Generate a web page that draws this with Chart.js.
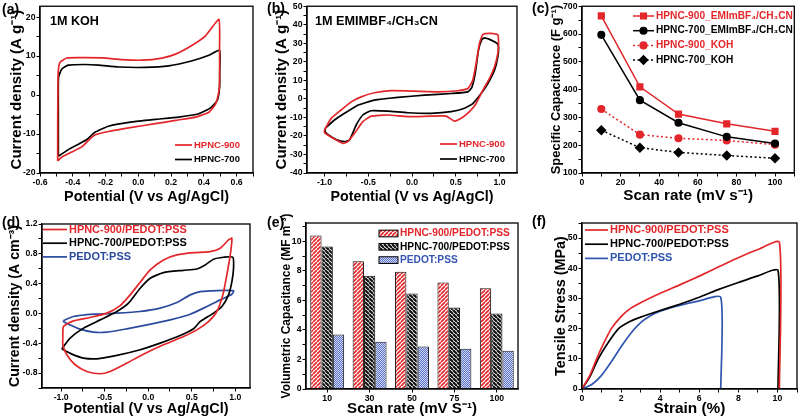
<!DOCTYPE html>
<html>
<head>
<meta charset="utf-8">
<script src="https://cdn.jsdelivr.net/npm/chart.js@4.4.1/dist/chart.umd.min.js"></script>
<style>
  html, body { margin: 0; padding: 0; background: #fff; }
  #fig { position: relative; width: 800px; height: 420px; overflow: hidden; }
  #fig canvas { position: absolute; }
</style>
</head>
<body>
<div id="fig"></div>
<script>
// ---- données ----

// (a) CV dans 1M KOH : [potentiel (V), densité de courant (A/g)]
const cvKoh900 = [[-0.492,-16.9],[-0.492,-8],[-0.491,0],[-0.489,5.8],[-0.478,8.4],[-0.437,9.5],[-0.365,9.6],[-0.222,9.55],[-0.1,9.1],[0.023,8.95],[0.145,9.5],[0.227,10.5],[0.329,12.8],[0.41,15.2],[0.492,19.4],[0.496,12],[0.496,3.7],[0.492,1.1],[0.472,-2.25],[0.431,-4.4],[0.349,-5.65],[0.227,-6.5],[0.104,-7.35],[-0.059,-8.4],[-0.182,-9.35],[-0.263,-10.2],[-0.304,-11.6],[-0.345,-13.3],[-0.406,-14.6],[-0.467,-15.9],[-0.492,-16.9]];
const cvKoh700 = [[-0.488,-15.7],[-0.488,-5],[-0.487,4.5],[-0.467,6.7],[-0.427,7.7],[-0.324,7.85],[-0.243,7.7],[-0.121,7.2],[0.043,7.1],[0.186,7.5],[0.329,8.8],[0.431,10.2],[0.496,11.5],[0.497,6],[0.496,2.0],[0.482,-1.4],[0.441,-3.3],[0.369,-4.8],[0.247,-5.65],[0.104,-6.25],[-0.039,-6.9],[-0.182,-8.0],[-0.263,-9.5],[-0.314,-11.4],[-0.365,-12.6],[-0.427,-14.0],[-0.488,-15.7]];

// (b) CV dans EMIMBF4/CH3CN
const cvIl900 = [[-1.0,-16.8],[-0.924,-10.5],[-0.81,-6.0],[-0.695,-1.6],[-0.581,1.1],[-0.429,3.3],[-0.238,4.4],[0.029,4.2],[0.295,3.8],[0.524,4.4],[0.638,5.6],[0.695,10.1],[0.733,19.1],[0.771,29.9],[0.81,34.7],[0.905,35.3],[0.981,34.6],[0.989,29.9],[0.981,24.5],[0.943,17.3],[0.886,11.0],[0.81,4.7],[0.733,-2.5],[0.657,-6.9],[0.562,-10.5],[0.486,-12.0],[0.39,-9.3],[0.219,-9.3],[-0.048,-9.6],[-0.276,-8.7],[-0.467,-9.3],[-0.562,-12.3],[-0.657,-18.6],[-0.733,-23.1],[-0.79,-24.0],[-0.867,-22.2],[-0.962,-19.5],[-1.0,-18.1],[-1.0,-16.8]];
const cvIl700 = [[-0.992,-15.9],[-0.886,-11.4],[-0.771,-7.8],[-0.619,-3.4],[-0.429,-0.7],[-0.162,0.8],[0.143,2.0],[0.448,2.9],[0.638,3.8],[0.684,6.2],[0.722,13.7],[0.76,26.3],[0.798,32.0],[0.829,32.9],[0.905,31.7],[0.973,29.9],[0.989,28.1],[0.981,22.7],[0.943,15.5],[0.867,8.3],[0.79,2.9],[0.695,-2.5],[0.6,-5.1],[0.448,-6.9],[0.219,-7.8],[-0.048,-7.5],[-0.276,-6.6],[-0.467,-6.4],[-0.562,-8.7],[-0.638,-14.1],[-0.714,-22.2],[-0.771,-23.1],[-0.867,-21.9],[-0.962,-19.2],[-0.992,-17.7],[-0.992,-15.9]];

// (c) capacité spécifique (F/g) selon la vitesse de balayage
const scanRates = [10, 30, 50, 75, 100];
const capIl900 = [665, 410, 312, 277, 250];
const capIl700 = [597, 362, 281, 230, 206];
const capKoh900 = [330, 238, 225, 217, 202];
const capKoh700 = [254, 191, 174, 163, 153];

// (d) CV des films composites
const cvFilm900 = [[-0.981,-0.331],[-0.973,-0.175],[-0.858,-0.099],[-0.667,-0.054],[-0.475,0.004],[-0.322,0.106],[-0.207,0.249],[-0.092,0.419],[0.023,0.584],[0.176,0.718],[0.33,0.785],[0.521,0.816],[0.713,0.829],[0.828,0.874],[0.923,0.986],[0.962,1.008],[0.943,0.785],[0.904,0.517],[0.858,0.249],[0.789,0.026],[0.693,-0.108],[0.559,-0.22],[0.406,-0.309],[0.176,-0.421],[-0.054,-0.546],[-0.245,-0.666],[-0.437,-0.778],[-0.552,-0.809],[-0.705,-0.778],[-0.839,-0.688],[-0.935,-0.554],[-0.981,-0.42],[-0.981,-0.331]];
const cvFilm700 = [[-0.992,-0.474],[-0.897,-0.331],[-0.743,-0.197],[-0.552,-0.086],[-0.36,0.026],[-0.226,0.138],[-0.092,0.338],[0.023,0.472],[0.176,0.548],[0.406,0.579],[0.559,0.597],[0.655,0.651],[0.751,0.727],[0.866,0.754],[0.973,0.754],[0.981,0.606],[0.962,0.428],[0.923,0.249],[0.847,0.093],[0.751,0.004],[0.598,-0.108],[0.521,-0.206],[0.368,-0.296],[0.138,-0.398],[-0.092,-0.487],[-0.36,-0.563],[-0.59,-0.608],[-0.743,-0.599],[-0.877,-0.546],[-0.973,-0.488],[-0.992,-0.474]];
const cvPedot = [[-0.973,-0.095],[-0.858,-0.041],[-0.628,-0.01],[-0.36,0.004],[-0.092,0.026],[0.138,0.071],[0.33,0.146],[0.483,0.249],[0.598,0.294],[0.789,0.307],[0.981,0.303],[0.962,0.258],[0.828,0.182],[0.674,0.093],[0.483,-0.01],[0.253,-0.086],[-0.015,-0.153],[-0.245,-0.206],[-0.475,-0.251],[-0.628,-0.251],[-0.782,-0.211],[-0.916,-0.144],[-0.973,-0.108],[-0.973,-0.095]];

// (e) capacité volumique (MF/m3)
const rateLabels = ["10", "30", "50", "75", "100"];
const volCap900 = [10.4, 8.65, 7.95, 7.22, 6.83];
const volCap700 = [9.65, 7.67, 6.47, 5.52, 5.12];
const volCapPedot = [3.7, 3.2, 2.88, 2.72, 2.6];

// (f) traction : [déformation (%), contrainte (MPa)]
const tensile900 = [[0,0],[0.4,4.5],[0.75,10],[1.1,15],[1.5,20],[2,24],[2.5,26.8],[3,28.6],[4,31.7],[5,34.5],[6,37.4],[7,40.5],[8,43.5],[9,46.2],[10.1,48.6],[10.1,0]];
const tensile700 = [[0,0],[0.4,4],[0.83,10],[1.3,15],[1.87,20],[2.5,22.5],[3,23.8],[4,26.0],[5,28.1],[6,30.4],[7,33.0],[8,35.3],[9,37.5],[10.03,39.3],[10.03,0]];
const tensilePedot = [[0,0],[0.5,1.5],[1,4.5],[1.5,9],[2,14],[2.5,18.5],[3,22],[3.5,24.3],[4,25.8],[5,27.7],[6,29.2],[7.1,30.4],[7.1,0]];

// ---- polices ----
const probe = document.createElement("canvas").getContext("2d");
const hasFont = name => {
  probe.font = "40px monospace";
  const a = probe.measureText("HPNC-900 Potential").width;
  probe.font = `40px "${name}", monospace`;
  return probe.measureText("HPNC-900 Potential").width !== a;
};
const FAMILY = hasFont("Liberation Sans Narrow")
  ? '"Liberation Sans Narrow", "Liberation Sans", Arial, sans-serif'
  : '"Liberation Sans", Arial, sans-serif';
// taille de police pour qu'un texte occupe une largeur donnée
const fit = (text, width, cap) => {
  probe.font = `bold 100px ${FAMILY}`;
  return Math.min(cap, 100 * width / probe.measureText(text).width);
};
const bold = size => `bold ${size}px ${FAMILY}`;
Chart.defaults.font.family = FAMILY;

const RED = "#e3262a", BLUE = "#2b4a9e", BLACK = "#000";
const tickSize = fit("-0.6", 15, 10.5);

// motifs des barres
function stripes(fg, bg, forward, n, lw) {
  const c = document.createElement("canvas");
  c.width = c.height = n;
  const g = c.getContext("2d");
  g.fillStyle = bg; g.fillRect(0, 0, n, n);
  g.strokeStyle = fg; g.lineWidth = lw;
  g.beginPath();
  for (const k of [-n, 0, n]) {
    if (forward) { g.moveTo(k, n); g.lineTo(k + n, 0); }
    else { g.moveTo(k, 0); g.lineTo(k + n, n); }
  }
  g.stroke();
  return g.createPattern(c, "repeat");
}
function checker(a, b) {
  const c = document.createElement("canvas");
  c.width = c.height = 2;
  const g = c.getContext("2d");
  g.fillStyle = b; g.fillRect(0, 0, 2, 2);
  g.fillStyle = a; g.fillRect(0, 0, 1, 1); g.fillRect(1, 1, 1, 1);
  return g.createPattern(c, "repeat");
}

// ---- cadre, légende et annotations ----
const deco = {
  id: "deco",
  afterDraw(chart, args, o) {
    const { ctx, chartArea: a } = chart;
    ctx.save();
    ctx.strokeStyle = BLACK; ctx.lineWidth = 1.3;
    ctx.strokeRect(a.left, a.top, a.right - a.left, a.bottom - a.top);
    ctx.translate(-o.ox, -o.oy);
    ctx.textBaseline = "middle";
    (o.notes || []).forEach(n => {
      ctx.font = bold(n.size); ctx.fillStyle = BLACK;
      ctx.fillText(n.text, n.x, n.y);
    });
    const lg = o.legend;
    if (lg) chart.data.datasets.forEach((d, i) => {
      const x = lg.x, y = lg.y + i * lg.dy;
      if (chart.config.type === "bar") {
        ctx.fillStyle = d.backgroundColor;
        ctx.fillRect(x, y - lg.h / 2, lg.w, lg.h);
        ctx.strokeStyle = BLACK; ctx.lineWidth = 1;
        ctx.strokeRect(x, y - lg.h / 2, lg.w, lg.h);
      } else {
        ctx.strokeStyle = d.borderColor; ctx.lineWidth = d.borderWidth;
        ctx.setLineDash(d.borderDash || []);
        ctx.beginPath(); ctx.moveTo(x, y); ctx.lineTo(x + lg.w, y); ctx.stroke();
        ctx.setLineDash([]);
        if (d.pointRadius) {
          ctx.fillStyle = d.pointBackgroundColor; ctx.strokeStyle = d.borderColor;
          Chart.helpers.drawPoint(ctx, { pointStyle: d.pointStyle, radius: d.pointRadius, rotation: 0, borderWidth: 1 }, x + lg.w / 2, y);
        }
      }
      ctx.font = bold(lg.size); ctx.fillStyle = d.textColor;
      ctx.fillText(d.label, x + lg.w + lg.gap, y);
    });
    ctx.restore();
  }
};

// ---- axes ----
function linAxis(min, max, minor, major, digits, title, titleWidth) {
  return {
    type: "linear", min, max,
    border: { display: true, color: BLACK, width: 1.3 },
    grid: { drawOnChartArea: false, tickLength: 3.5, tickColor: BLACK, tickWidth: 1 },
    afterBuildTicks: s => {
      const t = [];
      for (let k = Math.ceil(min / minor - 1e-9); k * minor <= max + 1e-9; k++) {
        t.push({ value: Math.round(k * minor * 1e6) / 1e6 });
      }
      s.ticks = t;
    },
    ticks: {
      autoSkip: false, maxRotation: 0, padding: 1, color: BLACK,
      font: { size: tickSize, weight: "bold" },
      callback: v => Math.abs(v / major - Math.round(v / major)) < 1e-6 ? v.toFixed(digits) : ""
    },
    title: { display: true, text: title, color: BLACK, font: { size: fit(title, titleWidth, 18), weight: "bold" } }
  };
}

const fig = document.getElementById("fig");
function panel(p) {
  const [bx, by, bw, bh] = p.box, [L, T, R, B] = p.area;
  const cv = document.createElement("canvas");
  cv.width = bw; cv.height = bh;
  cv.style.left = bx + "px"; cv.style.top = by + "px";
  fig.appendChild(cv);
  p.x.afterFit = s => { s.height = by + bh - B; };
  p.y.afterFit = s => { s.width = L - bx; };
  p.x.title.padding = { top: 0, bottom: Math.max(0, by + bh - p.xTitleY - p.x.title.font.size * 0.6) };
  p.y.title.padding = { top: Math.max(0, p.yTitleX - bx - p.y.title.font.size * 0.6), bottom: 0 };
  return new Chart(cv, {
    type: p.type,
    data: p.data,
    options: {
      responsive: false, animation: false, events: [],
      layout: { padding: { left: 0, top: T - by, right: bx + bw - R, bottom: 0 } },
      scales: { x: p.x, y: p.y },
      plugins: { legend: { display: false }, tooltip: { enabled: false }, deco: Object.assign({ ox: bx, oy: by }, p.deco) }
    },
    plugins: [deco]
  });
}

const curve = (label, pts, color, tension, width) => ({
  label, data: pts.map(([x, y]) => ({ x, y })), showLine: true, pointRadius: 0,
  borderColor: color, textColor: color, borderWidth: width || 1.7, tension: tension
});
const marked = (label, ys, color, style, radius, dash) => ({
  label, data: scanRates.map((x, i) => ({ x, y: ys[i] })), showLine: true,
  borderColor: color, textColor: color, borderWidth: 1.5, borderDash: dash,
  pointStyle: style, pointRadius: radius, pointBackgroundColor: color, pointBorderColor: color
});
const labelSize = t => fit(t, 18, 14);

// (a)
panel({
  box: [0, 0, 265, 210], area: [40, 5, 253, 173], xTitleY: 197, yTitleX: 17,
  type: "scatter",
  data: { datasets: [curve("HPNC-900", cvKoh900, RED, 0.15), curve("HPNC-700", cvKoh700, BLACK, 0.15)] },
  x: linAxis(-0.6, 0.7, 0.1, 0.2, 1, "Potential (V vs Ag/AgCl)", 165),
  y: linAxis(-20, 22.8, 5, 10, 0, "Current density (A g\u207B\u00B9)", 160),
  deco: {
    notes: [{ text: "(a)", x: 2, y: 10, size: labelSize("(a)") }, { text: "1M KOH", x: 50, y: 22, size: fit("1M KOH", 49, 14) }],
    legend: { x: 175, y: 145, dy: 14.5, w: 17, gap: 2, size: fit("HPNC-900", 46, 12) }
  }
});

// (b)
panel({
  box: [265, 0, 265, 210], area: [307, 6, 517, 173], xTitleY: 197, yTitleX: 282,
  type: "scatter",
  data: { datasets: [curve("HPNC-900", cvIl900, RED, 0.15), curve("HPNC-700", cvIl700, BLACK, 0.15)] },
  x: linAxis(-1.2, 1.2, 0.25, 0.5, 1, "Potential (V vs Ag/AgCl)", 163),
  y: linAxis(-40, 50, 5, 10, 0, "Current density (A g\u207B\u00B9)", 160),
  deco: {
    notes: [{ text: "(b)", x: 267, y: 9, size: labelSize("(b)") }, { text: "1M EMIMBF\u2084/CH\u2083CN", x: 315, y: 22, size: fit("1M EMIMBF\u2084/CH\u2083CN", 123, 14) }],
    legend: { x: 440, y: 144, dy: 15, w: 17, gap: 2, size: fit("HPNC-900", 46, 12) }
  }
});

// (c)
panel({
  box: [530, 0, 270, 210], area: [582, 6, 797, 173], xTitleY: 196, yTitleX: 556,
  type: "scatter",
  data: { datasets: [
    marked("HPNC-900_EMImBF\u2084/CH\u2083CN", capIl900, RED, "rect", 4),
    marked("HPNC-700_EMImBF\u2084/CH\u2083CN", capIl700, BLACK, "circle", 3.3),
    marked("HPNC-900_KOH", capKoh900, RED, "circle", 3.3, [2, 2.5]),
    marked("HPNC-700_KOH", capKoh700, BLACK, "rectRot", 4.2, [2, 2.5])
  ] },
  x: linAxis(0, 110, 10, 20, 0, "Scan rate (mV s\u207B\u00B9)", 130),
  y: linAxis(100, 700, 50, 100, 0, "Specific Capacitance (F g\u207B\u00B9)", 170),
  deco: {
    notes: [{ text: "(c)", x: 532, y: 9, size: labelSize("(c)") }],
    legend: { x: 633, y: 16, dy: 14.7, w: 21, gap: 2, size: fit("HPNC-900_EMImBF\u2084/CH\u2083CN", 137, 12) }
  }
});

// (d)
panel({
  box: [0, 210, 265, 210], area: [42, 224, 250, 388], xTitleY: 409, yTitleX: 15,
  type: "scatter",
  data: { datasets: [
    curve("HPNC-900/PEDOT:PSS", cvFilm900, RED, 0.2),
    curve("HPNC-700/PEDOT:PSS", cvFilm700, BLACK, 0.2),
    curve("PEDOT:PSS", cvPedot, BLUE, 0.2)
  ] },
  x: linAxis(-1.22, 1.17, 0.25, 0.5, 1, "Potential (V vs Ag/AgCl)", 165),
  y: linAxis(-1.0, 1.2, 0.2, 0.4, 1, "Current density (A cm\u207B\u00B3)", 162),
  deco: {
    notes: [{ text: "(d)", x: 2, y: 223, size: labelSize("(d)") }],
    legend: { x: 43, y: 229.5, dy: 13.7, w: 24, gap: 2, size: fit("HPNC-900/PEDOT:PSS", 118, 12) }
  }
});

// (e)
const xCat = {
  type: "category", offset: true,
  border: { display: true, color: BLACK, width: 1.3 },
  grid: { drawOnChartArea: false, offset: false, tickLength: 3.5, tickColor: BLACK },
  ticks: { autoSkip: false, maxRotation: 0, padding: 1, color: BLACK, font: { size: tickSize, weight: "bold" } },
  title: { display: true, text: "Scan rate (mV S\u207B\u00B9)", color: BLACK, font: { size: fit("Scan rate (mV S\u207B\u00B9)", 130, 18), weight: "bold" } }
};
const bars = (label, values, fill, color) => ({
  label, data: values, backgroundColor: fill, borderColor: "#111", borderWidth: 1,
  textColor: color, categoryPercentage: 0.8, barPercentage: 1.0
});
panel({
  box: [265, 210, 265, 210], area: [306, 223, 518, 389], xTitleY: 409, yTitleX: 287,
  type: "bar",
  data: { labels: rateLabels, datasets: [
    bars("HPNC-900/PEDOT:PSS", volCap900, stripes(RED, "#ffffff", true, 4, 1.7), RED),
    bars("HPNC-700/PEDOT:PSS", volCap700, stripes("#111", "#ffffff", false, 4, 2.2), BLACK),
    bars("PEDOT:PSS", volCapPedot, checker("#5a6fc6", "#d3daf4"), "#3454b4")
  ] },
  x: xCat,
  y: linAxis(0, 11.25, 1, 2, 0, "Volumetric Capacitance (MF m\u207B\u00B3)", 185),
  deco: {
    notes: [{ text: "(e)", x: 267, y: 223, size: labelSize("(e)") }],
    legend: { x: 379, y: 233.5, dy: 13.3, w: 19, h: 6.7, gap: 2, size: fit("HPNC-900/PEDOT:PSS", 110, 12) }
  }
});

// (f)
panel({
  box: [530, 210, 270, 210], area: [582, 223, 797, 389], xTitleY: 409, yTitleX: 561,
  type: "scatter",
  data: { datasets: [
    curve("HPNC-900/PEDOT:PSS", tensile900, RED, 0.2),
    curve("HPNC-700/PEDOT:PSS", tensile700, BLACK, 0.2),
    curve("PEDOT:PSS", tensilePedot, "#2f55b0", 0.2)
  ] },
  x: linAxis(0, 11, 1, 2, 0, "Strain (%)", 72),
  y: linAxis(0, 55, 5, 10, 0, "Tensile Stress (MPa)", 140),
  deco: {
    notes: [{ text: "(f)", x: 532, y: 222, size: labelSize("(f)") }],
    legend: { x: 585, y: 230, dy: 14.2, w: 23, gap: 2, size: fit("HPNC-900/PEDOT:PSS", 119, 12) }
  }
});
</script>
</body>
</html>
